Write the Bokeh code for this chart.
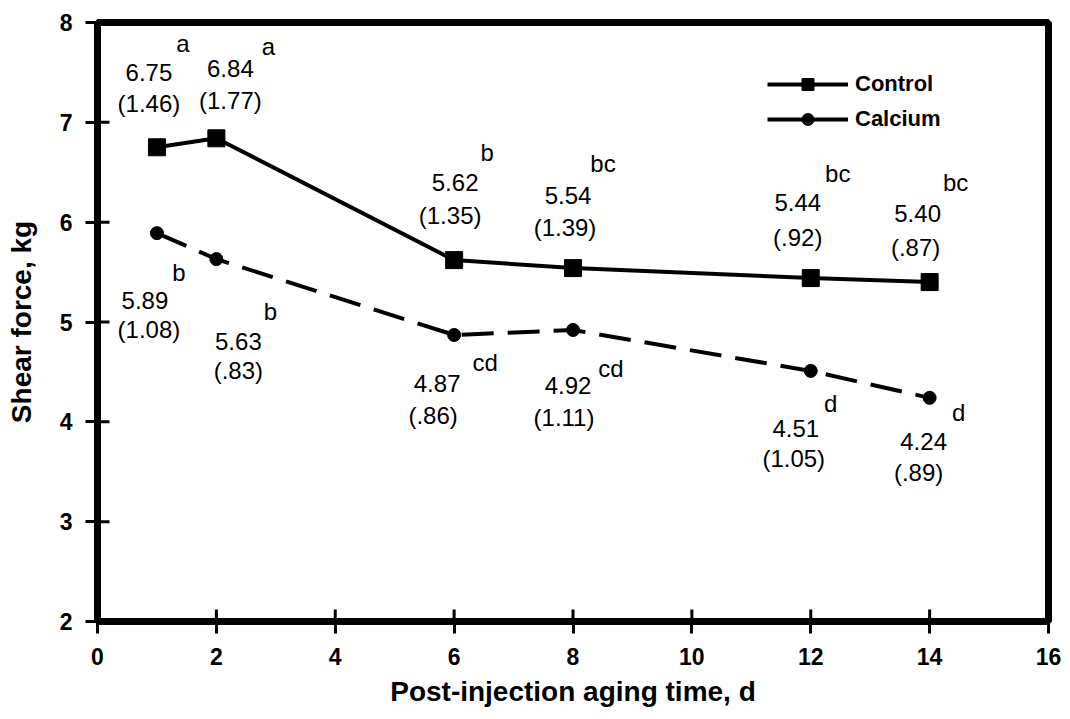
import math
from bokeh.plotting import figure
from bokeh.models import ColumnDataSource, Legend, LegendItem, Range1d, FixedTicker
from bokeh.core.properties import value
from bokeh.embed import file_html
from bokeh.resources import INLINE

# ---- data ----
days = [1, 2, 6, 8, 12, 14]
control = [6.75, 6.84, 5.62, 5.54, 5.44, 5.40]
control_sd = ["(1.46)", "(1.77)", "(1.35)", "(1.39)", "(.92)", "(.87)"]
control_letters = ["a", "a", "b", "bc", "bc", "bc"]
calcium = [5.89, 5.63, 4.87, 4.92, 4.51, 4.24]
calcium_sd = ["(1.08)", "(.83)", "(.86)", "(1.11)", "(1.05)", "(.89)"]
calcium_letters = ["b", "b", "cd", "cd", "d", "d"]
x_ticks = [0, 2, 4, 6, 8, 10, 12, 14, 16]
y_ticks = [2, 3, 4, 5, 6, 7, 8]

# ---- label placement (pixel offsets from each point, screen y down) ----
ctl_val_off = [(-8, -75), (14, -70), (1, -78), (-5, -73), (-13, -76), (-12, -69)]
ctl_sd_off = [(-8, -44), (14, -38), (-4, -45), (-8, -41), (-13, -41), (-14, -35)]
ctl_let_off = [(26, -104), (52, -92), (33, -108), (30, -105), (27, -105), (26, -100)]
cal_val_off = [(-12, 67), (22, 82), (-17, 49), (-5, 56), (-15, 58), (-6, 44)]
cal_sd_off = [(-8, 96), (22, 111), (-21, 81), (-9, 88), (-17, 88), (-11, 75)]
cal_let_off = [(22, 39), (54, 52), (31, 28), (38, 39), (20, 33), (29, 15)]

FONT = "Liberation Sans"
X0, Y0 = 0, 2

p = figure(width=1070, height=719, output_backend="svg", toolbar_location=None,
           x_range=Range1d(X0, 16), y_range=Range1d(Y0, 8),
           min_border_left=97, min_border_right=22, min_border_top=22, min_border_bottom=98)
p.background_fill_color = "white"
p.border_fill_color = "white"
p.grid.visible = False
p.outline_line_color = "black"
p.outline_line_width = 7

p.axis.axis_line_width = 3
p.axis.axis_line_color = "black"
p.axis.major_tick_line_width = 3
p.axis.major_tick_line_color = "black"
p.axis.major_tick_in = 0
p.axis.major_tick_out = 12
p.axis.minor_tick_line_color = None
p.axis.major_label_text_font = FONT
p.axis.major_label_text_font_style = "bold"
p.axis.major_label_text_font_size = "23px"
p.axis.major_label_text_color = "black"
p.axis.axis_label_text_font = FONT
p.axis.axis_label_text_font_style = "bold"
p.axis.axis_label_text_font_size = "28px"
p.axis.axis_label_text_color = "black"

p.xaxis.ticker = FixedTicker(ticks=x_ticks)
p.yaxis.ticker = FixedTicker(ticks=y_ticks)
p.xaxis.axis_label = "Post-injection aging time, d"
p.yaxis.axis_label = "Shear force, kg"
p.xaxis.major_label_standoff = 14
p.xaxis.axis_label_standoff = 8
p.yaxis.major_label_standoff = 13
p.yaxis.axis_label_standoff = 20

# inner halves of the crossing ticks (clipped to the frame)
p.scatter(x=x_ticks, y=[Y0] * len(x_ticks), marker="dash", size=24, angle=math.pi / 2,
          line_color="black", line_width=3)
p.scatter(x=[X0] * len(y_ticks), y=y_ticks, marker="dash", size=24,
          line_color="black", line_width=3)

# ---- series ----
src_c = ColumnDataSource(dict(x=days, y=control))
src_k = ColumnDataSource(dict(x=days, y=calcium))

lc = p.line("x", "y", source=src_c, line_color="black", line_width=4)
mc = p.scatter("x", "y", source=src_c, marker="square", size=17, fill_color="black", line_color="black")
lk = p.line("x", "y", source=src_k, line_color="black", line_width=4, line_dash="32 14")
mk = p.scatter("x", "y", source=src_k, marker="circle", size=13, fill_color="black", line_color="black")

# solid legend swatch for Calcium (single point: draws nothing in the plot)
leg_line = p.line(x=days[:1], y=calcium[:1], line_color="black", line_width=4)

# ---- annotations ----
def add_labels(xs, ys, texts, offs):
    src = ColumnDataSource(dict(x=xs, y=ys, t=texts,
                                dx=[o[0] for o in offs], dy=[o[1] for o in offs]))
    p.text("x", "y", text="t", source=src, x_offset="dx", y_offset="dy",
           text_align="center", text_baseline="middle",
           text_font=value(FONT), text_font_size="24px", text_color="black")

add_labels(days, control, [f"{v:.2f}" for v in control], ctl_val_off)
add_labels(days, control, control_sd, ctl_sd_off)
add_labels(days, control, control_letters, ctl_let_off)
add_labels(days, calcium, [f"{v:.2f}" for v in calcium], cal_val_off)
add_labels(days, calcium, calcium_sd, cal_sd_off)
add_labels(days, calcium, calcium_letters, cal_let_off)

legend = Legend(items=[LegendItem(label="Control", renderers=[lc, mc]),
                       LegendItem(label="Calcium", renderers=[leg_line, mk])],
                location=(670, 487))
legend.glyph_width = 81
legend.glyph_height = 30
legend.label_standoff = 7
legend.spacing = 5
legend.padding = 0
legend.margin = 0
legend.border_line_color = None
legend.background_fill_alpha = 0
legend.label_text_font = FONT
legend.label_text_font_style = "bold"
legend.label_text_font_size = "22px"
legend.label_text_color = "black"
p.add_layout(legend, "center")

open("out.html", "w").write(file_html(p, INLINE))
